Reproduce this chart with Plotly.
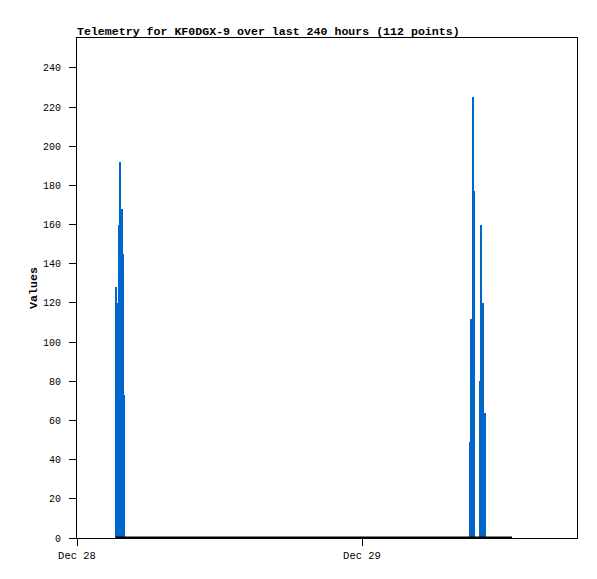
import plotly.graph_objects as go

# Data
bar_times = [
    "2024-12-28 03:20", "2024-12-28 03:27", "2024-12-28 03:33", "2024-12-28 03:40",
    "2024-12-28 03:46", "2024-12-28 03:53", "2024-12-28 03:59",
    "2024-12-29 09:05", "2024-12-29 09:12", "2024-12-29 09:20", "2024-12-29 09:26",
    "2024-12-29 09:59", "2024-12-29 10:04", "2024-12-29 10:08", "2024-12-29 10:11",
    "2024-12-29 10:20",
]
bar_values = [128, 120, 160, 192, 168, 145, 73,
              49, 112, 225, 177,
              80, 160, 40, 120, 64]

zero_times = ["2024-12-28 03:14", "2024-12-29 12:38"]
zero_values = [0, 0]

x_tick_vals = ["2024-12-28 00:00", "2024-12-29 00:00"]
x_tick_text = ["Dec 28", "Dec 29"]
y_tick_vals = list(range(0, 241, 20))

title_text = "Telemetry for KF0DGX-9 over last 240 hours (112 points)"

W, H = 589, 571  # page body has an 8px margin

fig = go.Figure()
fig.add_trace(go.Bar(
    x=bar_times, y=bar_values,
    width=380000,
    marker=dict(color="#0066CC", line=dict(width=0)),
    showlegend=False,
))
fig.add_trace(go.Scatter(
    x=zero_times, y=zero_values, mode="lines",
    line=dict(color="black", width=3),
    cliponaxis=False, showlegend=False,
))

mono = "Liberation Mono, DejaVu Sans Mono, monospace"
fig.update_layout(
    width=W, height=H,
    margin=dict(l=69, r=20, t=30, b=41),
    paper_bgcolor="white", plot_bgcolor="white",
    bargap=0,
    title=dict(text="<b>" + title_text + "</b>", x=69/W, xanchor="left",
               y=1 - 23/H, yanchor="middle",
               font=dict(family=mono, size=11.6, color="black")),
    font=dict(family=mono, size=10, color="black"),
)
fig.update_xaxes(
    type="date",
    range=["2024-12-28 00:00", "2024-12-29 18:06:18"],
    tickvals=x_tick_vals, ticktext=x_tick_text,
    ticks="outside", ticklen=7, tickcolor="black", tickwidth=1,
    showline=True, linecolor="black", linewidth=1, mirror=True,
    showgrid=False, zeroline=False,
    tickfont=dict(family=mono, size=10.5),
)
fig.update_yaxes(
    range=[0, 255.3],
    tickvals=y_tick_vals,
    ticks="outside", ticklen=7, tickcolor="black", tickwidth=1,
    showline=True, linecolor="black", linewidth=1, mirror=True,
    showgrid=False, zeroline=False,
    ticklabelstandoff=6,
    tickfont=dict(family=mono, size=10),
    title=dict(text="<b>Values</b>", font=dict(family=mono, size=11.6), standoff=2),
)

fig.write_html("out.html")
